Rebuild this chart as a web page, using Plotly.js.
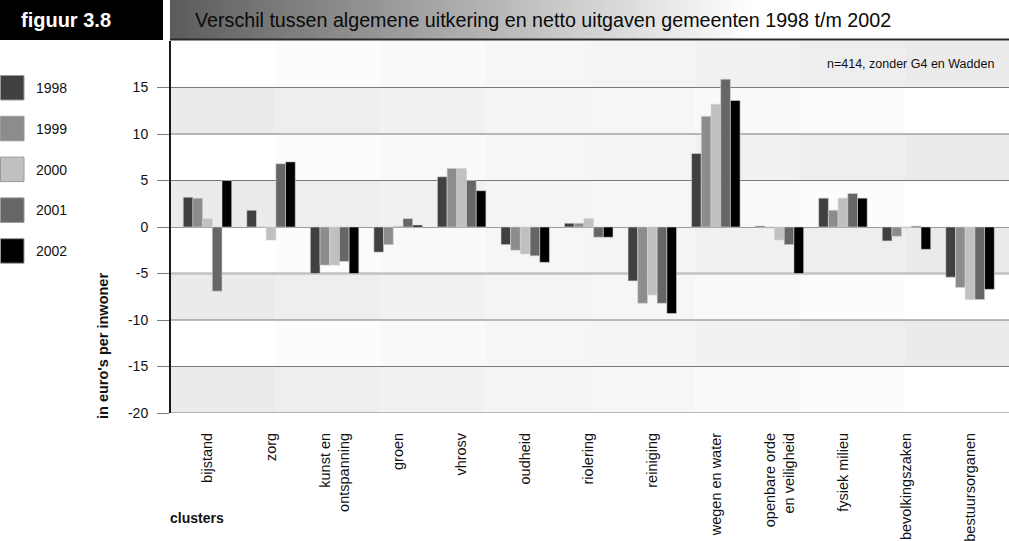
<!DOCTYPE html>
<html>
<head>
<meta charset="utf-8">
<script src="https://cdn.plot.ly/plotly-3.0.1.min.js"></script>
<style>html,body{margin:0;padding:0;background:#fff;}#chart{width:1009px;height:541px;}</style>
</head>
<body>
<div id="chart"></div>
<script>
// ---- data ----
const categories = ['bijstand','zorg','kunst en<br>ontspanning','groen','vhrosv','oudheid','riolering','reiniging','wegen en water','openbare orde<br>en veiligheid','fysiek milieu','bevolkingszaken','bestuursorganen'];
const years = ['1998','1999','2000','2001','2002'];
const colors = ['#404040','#8c8c8c','#c0c0c0','#666666','#000000'];
const v1998 = [3.2, 1.8, -5.0, -2.7, 5.4, -1.9, 0.4, -5.8, 7.9, 0.1, 3.1, -1.5, -5.4];
const v1999 = [3.1, 0.0, -4.1, -1.9, 6.3, -2.5, 0.4, -8.2, 11.9, -0.1, 1.8, -1.0, -6.5];
const v2000 = [0.9, -1.4, -4.1, 0.1, 6.3, -2.9, 0.9, -7.3, 13.2, -1.4, 3.1, -0.1, -7.8];
const v2001 = [-6.9, 6.8, -3.7, 0.9, 5.0, -3.1, -1.1, -8.2, 15.9, -1.9, 3.6, 0.1, -7.8];
const v2002 = [5.0, 7.0, -5.0, 0.2, 3.9, -3.8, -1.1, -9.3, 13.6, -5.0, 3.1, -2.4, -6.7];
const series = [v1998, v1999, v2000, v2001, v2002];
const yTicks = [-20, -15, -10, -5, 0, 5, 10, 15];
const titleText = 'Verschil tussen algemene uitkering en netto uitgaven gemeenten 1998 t/m 2002';
const figLabel = 'figuur 3.8';
const noteText = 'n=414, zonder G4 en Wadden';
const yTitle = "in euro's per inwoner";
const xTitle = 'clusters';

// ---- geometry helpers (pixel -> paper) ----
const W = 1009, H = 541, ML = 171, MR = 0, MT = 41, MB = 128;
const PW = W - ML - MR, PH = H - MT - MB;
const px = p => (p - ML) / PW;
const py = p => (H - MB - p) / PH;
const FONT = 'Liberation Sans, Arial, sans-serif';

const traces = years.map((yr, i) => ({
  type: 'bar', name: yr, x: categories, y: series[i],
  marker: {color: colors[i], line: {color: '#d4d4d4', width: 0.6}},
  showlegend: false, hoverinfo: 'x+y+name'
}));

const shapes = [];
// background bands with cross-fading stripes
const nStripes = 8;
for (let b = 0; b < 8; b++) {
  const y0 = -20 + b * 5, y1 = y0 + 5;
  for (let s = 0; s < nStripes; s++) {
    const t = s / (nStripes - 1);
    const v = b % 2 === 0 ? Math.round(235 + 20 * t) : Math.round(255 - 20 * t);
    shapes.push({type: 'rect', layer: 'below', xref: 'paper', yref: 'y',
      x0: s / nStripes, x1: (s + 1) / nStripes, y0: y0, y1: y1,
      fillcolor: `rgb(${v},${v},${v})`, line: {width: 0}});
  }
}
// horizontal grid lines (the -5 line is lighter and thicker in the original)
yTicks.filter(v => v !== 0).forEach(v => {
  shapes.push({type: 'line', layer: 'below', xref: 'paper', yref: 'y', x0: 0, x1: 1, y0: v, y1: v,
    line: v === -5 ? {color: '#c2c2c2', width: 2.5} : {color: '#7a7a7a', width: 1.2}});
});
// header: black box
shapes.push({type: 'rect', xref: 'paper', yref: 'paper', x0: px(0), x1: px(163), y0: py(40), y1: py(0),
  fillcolor: '#000', line: {width: 0}});
// header gradient bar
const gx0 = 170, gx1 = 1009, gStep = 4;
for (let p = gx0; p < gx1; p += gStep) {
  const t = Math.min(1, Math.max(0, (p - gx0) / 580));
  const v = Math.round(0x5c + (255 - 0x5c) * t);
  shapes.push({type: 'rect', xref: 'paper', yref: 'paper', x0: px(p), x1: px(Math.min(gx1, p + gStep + 0.5)),
    y0: py(39), y1: py(0), fillcolor: `rgb(${v},${v},${v})`, line: {width: 0}});
}
shapes.push({type: 'line', xref: 'paper', yref: 'paper', x0: px(170), x1: px(1009), y0: py(39.5), y1: py(39.5),
  line: {color: '#2a2a2a', width: 2}});
// legend swatches
const annotations = [];
years.forEach((yr, i) => {
  const cy = 88 + i * 40.8;
  shapes.push({type: 'rect', xref: 'paper', yref: 'paper', x0: px(0.5), x1: px(24), y0: py(cy - 12.5), y1: py(cy + 12),
    fillcolor: colors[i], line: {color: '#9a9a9a', width: 1}});
  annotations.push({xref: 'paper', yref: 'paper', x: px(34), y: py(cy), xanchor: 'left', yanchor: 'middle',
    text: yr, showarrow: false, font: {family: FONT, size: 14, color: '#111'}});
});
annotations.push({xref: 'paper', yref: 'paper', x: px(19), y: py(20), xanchor: 'left', yanchor: 'middle',
  text: '<b>' + figLabel + '</b>', showarrow: false, font: {family: FONT, size: 20, color: '#fff'}});
annotations.push({xref: 'paper', yref: 'paper', x: px(193), y: py(20), xanchor: 'left', yanchor: 'middle',
  text: titleText, showarrow: false, font: {family: FONT, size: 19.7, color: '#0a0a0a'}});
annotations.push({xref: 'paper', yref: 'paper', x: px(996), y: py(64), xanchor: 'right', yanchor: 'middle',
  text: noteText, showarrow: false, font: {family: FONT, size: 12.5, color: '#111'}});
annotations.push({xref: 'paper', yref: 'paper', x: px(103), y: py(346), xanchor: 'center', yanchor: 'middle',
  text: '<b>' + yTitle + '</b>', textangle: -90, showarrow: false, font: {family: FONT, size: 14.5, color: '#111'}});
annotations.push({xref: 'paper', yref: 'paper', x: px(168), y: py(518), xanchor: 'left', yanchor: 'middle',
  text: '<b>' + xTitle + '</b>', showarrow: false, font: {family: FONT, size: 14, color: '#111'}});

const xr = [-0.574, categories.length - 0.387];
const layout = {
  width: W, height: H,
  margin: {l: ML, r: MR, t: MT, b: MB, pad: 0},
  paper_bgcolor: '#fff', plot_bgcolor: '#fff',
  barmode: 'group', bargap: 0.237, bargroupgap: 0,
  font: {family: FONT, size: 13, color: '#111'},
  showlegend: false,
  xaxis: {type: 'category', range: xr, tickangle: -90, ticks: '', showgrid: false, zeroline: false,
    showline: false, ticklabelstandoff: 16, tickfont: {family: FONT, size: 14.5, color: '#111'}},
  xaxis2: {overlaying: 'x', anchor: 'free', position: 0.5, range: xr, type: 'linear',
    tickvals: categories.slice(1).map((c, i) => i + 0.5), ticks: 'outside', ticklen: 5, tickcolor: '#777',
    tickwidth: 1, showticklabels: false, showgrid: false, zeroline: false, showline: false},
  yaxis: {range: [-20, 20], tickvals: yTicks, ticktext: yTicks.map(String), ticks: 'outside', ticklen: 12,
    tickcolor: '#7a7a7a', tickwidth: 1, showgrid: false,
    zeroline: true, zerolinecolor: '#999', zerolinewidth: 1, showline: true, linecolor: '#1a1a1a', linewidth: 2,
    ticklabelstandoff: 6, tickfont: {family: FONT, size: 14, color: '#111'}},
  shapes: shapes, annotations: annotations
};
Plotly.newPlot('chart', traces, layout, {displayModeBar: false, staticPlot: true});
</script>
</body>
</html>
